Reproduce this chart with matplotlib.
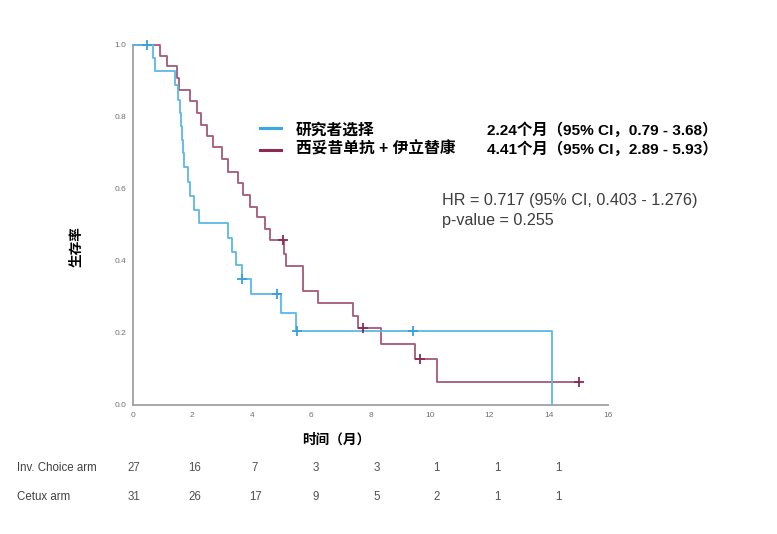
import numpy as np
import matplotlib
matplotlib.use("Agg")
import matplotlib.pyplot as plt
from matplotlib.lines import Line2D

# ---------------- data ----------------
inv_times = [0.68, 0.74, 1.41, 1.50, 1.58, 1.62, 1.66, 1.69, 1.72, 1.86, 1.93, 2.06, 2.22,
             3.21, 3.32, 3.47, 3.66, 3.97, 4.98, 5.49, 14.1]
inv_surv = [0.963, 0.926, 0.889, 0.847, 0.810, 0.773, 0.735, 0.698, 0.661, 0.619, 0.580,
            0.541, 0.504, 0.462, 0.425, 0.388, 0.348, 0.307, 0.254, 0.205, 0.0]
inv_censor = [0.48, 3.66, 4.86, 5.51, 9.44]

cet_times = [0.91, 1.13, 1.47, 1.56, 1.92, 2.14, 2.28, 2.50, 2.70, 2.99, 3.21, 3.55, 3.71,
             3.94, 4.16, 4.44, 4.61, 5.09, 5.17, 5.71, 6.22, 7.42, 7.57, 8.34, 9.49, 10.25]
cet_surv = [0.970, 0.940, 0.907, 0.875, 0.843, 0.810, 0.778, 0.746, 0.717, 0.682, 0.647,
            0.615, 0.583, 0.550, 0.520, 0.487, 0.457, 0.420, 0.385, 0.316, 0.282, 0.246,
            0.212, 0.169, 0.126, 0.064]
cet_censor = [5.04, 7.75, 9.66, 15.03]
cet_end = 15.03

xticks = [0, 2, 4, 6, 8, 10, 12, 14, 16]
yticks = [0.0, 0.2, 0.4, 0.6, 0.8, 1.0]

risk_times = [0, 2, 4, 6, 8, 10, 12, 14]
risk_inv = [27, 16, 7, 3, 3, 1, 1, 1]
risk_cet = [31, 26, 17, 9, 5, 2, 1, 1]
risk_labels = ["Inv. Choice arm", "Cetux arm"]

legend_names = ["研究者选择", "西妥昔单抗 + 伊立替康"]
legend_medians = ["2.24个月（95% CI，0.79 - 3.68）", "4.41个月（95% CI，2.89 - 5.93）"]
hr_text = "HR = 0.717 (95% CI, 0.403 - 1.276)"
p_text = "p-value = 0.255"
xlabel = "时间（月）"
ylabel = "生存率"

# ---------------- style ----------------
BLUE = "#5cb8e6"
RED = "#a5587a"
BLUE_L = "#3aa8df"
RED_L = "#8c2a55"
CJK = ["Liberation Sans", "Noto Sans CJK SC", "DejaVu Sans"]
plt.rcParams["font.family"] = CJK

W, H = 777, 534
fig = plt.figure(figsize=(W / 100, H / 100), dpi=100)
fig.patch.set_facecolor("white")


def fx(px):
    return px / W


def fy(py):
    return 1 - py / H


ax = fig.add_axes([fx(133), fy(404.7), fx(608) - fx(133), fy(44.7) - fy(404.7)])
ax.set_xlim(0, 16)
ax.set_ylim(0, 1.0)


def step_xy(times, surv, end=None):
    x = [0.0] + list(times)
    y = [1.0] + list(surv)
    if end is not None:
        x.append(end)
        y.append(y[-1])
    return np.array(x), np.array(y)


def surv_at(times, surv, t):
    x, y = step_xy(times, surv)
    i = np.searchsorted(x, t, side="right") - 1
    return y[i]


xb, yb = step_xy(inv_times, inv_surv)
xr, yr = step_xy(cet_times, cet_surv, cet_end)

ax.step(xr, yr, where="post", color=RED, lw=1.3, clip_on=False, zorder=3)
ax.step(xb, yb, where="post", color=BLUE, lw=1.3, clip_on=False, zorder=4)

ax.plot(inv_censor, [surv_at(inv_times, inv_surv, t) for t in inv_censor], ls="none",
        marker="+", ms=7, mew=1.3, color="#3aa0d8", clip_on=False, zorder=5)
ax.plot(cet_censor, [surv_at(cet_times, cet_surv, t) for t in cet_censor], ls="none",
        marker="+", ms=7, mew=1.3, color="#8c2a55", clip_on=False, zorder=5)

for s in ["top", "right"]:
    ax.spines[s].set_visible(False)
for s in ["left", "bottom"]:
    ax.spines[s].set_color("#a0a0a0")
    ax.spines[s].set_linewidth(1.3)
ax.set_xticks(xticks)
ax.set_yticks(yticks)
ax.set_xticklabels([str(t) for t in xticks])
ax.set_yticklabels([f"{t:.1f}" for t in yticks])
ax.tick_params(length=0, labelsize=6, colors="#707070", pad=5)

# axis labels
fig.text(fx(336), fy(440), xlabel, ha="center", va="center", fontsize=9.8,
         fontweight="bold", family=CJK)
fig.text(fx(77), fy(247), ylabel, ha="center", va="center", fontsize=9.8,
         fontweight="bold", rotation=90, family=CJK)

# legend
leg_y = [128, 150]
leg_txt_y = [130, 149]
for col, yy in zip([BLUE_L, RED_L], leg_y):
    fig.add_artist(Line2D([fx(260), fx(281)], [fy(yy), fy(yy)], color=col, lw=2.2))
for name, med, yy in zip(legend_names, legend_medians, leg_txt_y):
    fig.text(fx(296), fy(yy), name, ha="left", va="center", fontsize=11.3,
             fontweight="bold", family=CJK)
    fig.text(fx(487), fy(yy), med, ha="left", va="center", fontsize=11.1,
             fontweight="bold", family=CJK)

fig.text(fx(442), fy(200), hr_text, ha="left", va="center", fontsize=11.6,
         color="#3c3c3c", family=CJK)
fig.text(fx(442), fy(221), p_text, ha="left", va="center", fontsize=11.6,
         color="#3c3c3c", family=CJK)

# number at risk table
NARROW = ["Liberation Sans Narrow", "Liberation Sans", "DejaVu Sans"]
row_y = [468, 497]
for lab, yy in zip(risk_labels, row_y):
    fig.text(fx(17), fy(yy), lab, ha="left", va="center", fontsize=8.3,
             color="#404040", family=NARROW)
for vals, yy in zip([risk_inv, risk_cet], row_y):
    for t, v in zip(risk_times, vals):
        xpix = 133 + t * 1.02 * (608 - 133) / 16 + 1
        fig.text(fx(xpix), fy(yy), str(v), ha="center", va="center", fontsize=8.3,
                 color="#505050", family=NARROW)

fig.savefig("out.png", dpi=100, facecolor="white")
